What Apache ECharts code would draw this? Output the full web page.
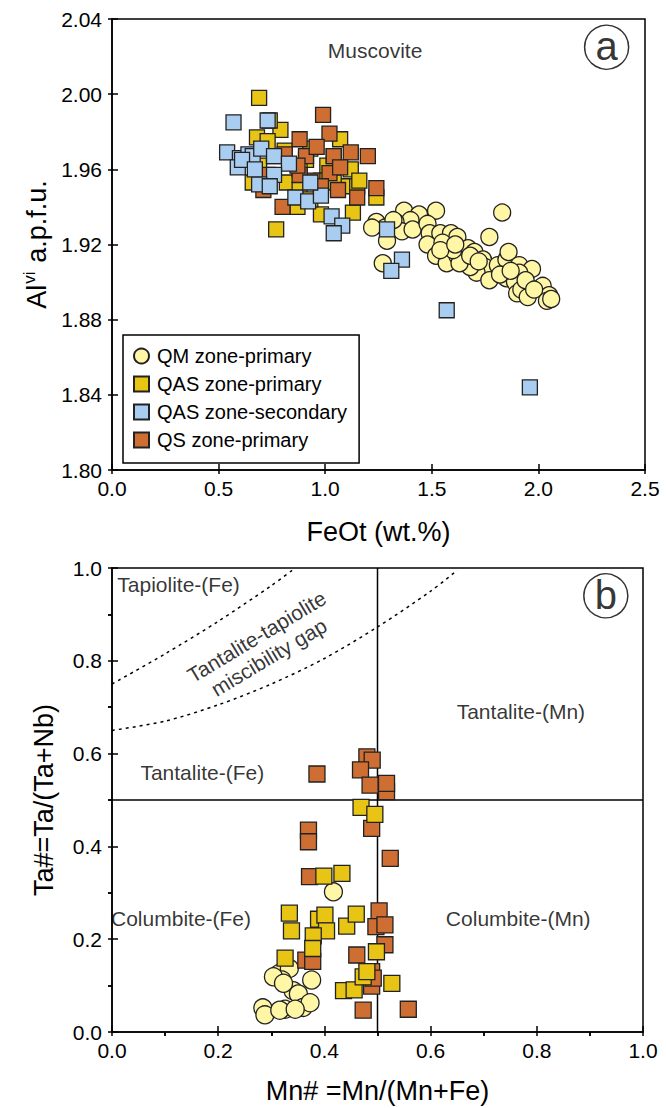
<!DOCTYPE html>
<html>
<head>
<meta charset="utf-8">
<script src="https://cdn.jsdelivr.net/npm/echarts@6/dist/echarts.min.js"></script>
<style>
  html, body { margin: 0; padding: 0; background: #fff; }
  #chart { width: 666px; height: 1108px; }
</style>
</head>
<body>
<div id="chart"></div>
<script>
// ---- Panel (a): muscovite Al(vi) vs FeOt ----
const seriesNames = ['QM zone-primary', 'QAS zone-primary', 'QAS zone-secondary', 'QS zone-primary'];

const qmA = [[1.37,1.938],[1.44,1.936],[1.52,1.938],[1.83,1.937],[1.77,1.924],[1.40,1.933],[1.33,1.932],[1.36,1.927],[1.41,1.928],[1.48,1.931],[1.49,1.926],[1.54,1.926],[1.59,1.926],[1.62,1.924],[1.48,1.920],[1.55,1.921],[1.52,1.914],[1.57,1.910],[1.62,1.914],[1.67,1.918],[1.67,1.912],[1.70,1.916],[1.74,1.912],[1.75,1.908],[1.71,1.905],[1.77,1.901],[1.81,1.909],[1.85,1.912],[1.86,1.916],[1.85,1.902],[1.91,1.909],[1.97,1.907],[1.91,1.905],[1.89,1.900],[1.90,1.894],[1.92,1.896],[1.95,1.892],[2.02,1.898],[2.05,1.893],[2.04,1.890],[2.06,1.891],[1.68,1.908],[1.63,1.910],[1.60,1.917],[1.24,1.932],[1.28,1.929],[1.27,1.910],[1.22,1.929],[1.32,1.933],[1.29,1.922],[1.54,1.917],[1.61,1.920],[1.68,1.914],[1.72,1.911],[1.82,1.904],[1.87,1.906],[1.94,1.901],[1.98,1.896]];

const qasPrimaryA = [[0.69,1.998],[0.79,1.981],[0.68,1.977],[0.73,1.975],[0.66,1.953],[0.69,1.962],[0.82,1.953],[0.88,1.949],[0.93,1.971],[1.01,1.962],[1.12,1.960],[1.09,1.951],[1.15,1.951],[1.24,1.945],[0.98,1.936],[1.13,1.937],[0.77,1.928],[0.87,1.940],[0.91,1.965],[1.04,1.967],[0.76,1.967],[1.04,1.953],[1.16,1.954],[0.93,1.944],[0.74,1.986],[0.81,1.970],[0.88,1.960],[0.98,1.954],[1.07,1.976],[0.62,1.965]];

const qasSecondaryA = [[0.57,1.985],[0.73,1.986],[0.54,1.969],[0.60,1.966],[0.64,1.968],[0.66,1.967],[0.70,1.971],[0.76,1.967],[0.83,1.963],[0.59,1.961],[0.76,1.957],[0.69,1.952],[0.74,1.951],[0.86,1.945],[0.92,1.943],[0.98,1.946],[0.93,1.953],[1.03,1.935],[1.08,1.930],[1.04,1.926],[1.29,1.928],[1.36,1.912],[1.31,1.906],[1.57,1.885],[1.96,1.844],[0.61,1.965],[0.67,1.960]];

const qsA = [[0.99,1.989],[1.02,1.979],[0.88,1.976],[0.81,1.968],[0.91,1.967],[0.96,1.972],[1.04,1.967],[1.12,1.969],[1.20,1.967],[0.94,1.954],[1.02,1.958],[1.07,1.961],[1.24,1.950],[1.15,1.945],[0.80,1.940],[0.71,1.949],[0.88,1.957],[0.98,1.951],[0.87,1.962],[1.06,1.949],[0.73,1.957]];

// ---- Panel (b): Ta# vs Mn# ----
const qmB = [[0.417,0.302],[0.315,0.126],[0.334,0.137],[0.320,0.112],[0.376,0.112],[0.341,0.089],[0.351,0.082],[0.284,0.052],[0.288,0.037],[0.326,0.049],[0.360,0.053],[0.373,0.063],[0.316,0.047],[0.345,0.049],[0.304,0.119],[0.323,0.105]];

const qasPrimaryB = [[0.469,0.484],[0.495,0.469],[0.399,0.336],[0.433,0.342],[0.334,0.256],[0.338,0.218],[0.389,0.243],[0.401,0.252],[0.404,0.218],[0.379,0.207],[0.442,0.228],[0.460,0.254],[0.378,0.180],[0.326,0.159],[0.498,0.173],[0.436,0.089],[0.456,0.091],[0.473,0.119],[0.527,0.105],[0.480,0.130]];

const qsB = [[0.370,0.435],[0.370,0.410],[0.372,0.335],[0.489,0.439],[0.524,0.374],[0.503,0.261],[0.497,0.227],[0.514,0.231],[0.514,0.188],[0.461,0.166],[0.365,0.155],[0.378,0.152],[0.489,0.130],[0.489,0.099],[0.473,0.047],[0.558,0.049],[0.492,0.116],[0.517,0.518],[0.517,0.536],[0.386,0.556],[0.480,0.593],[0.490,0.586],[0.468,0.565],[0.486,0.532]];

// Field boundaries (Mn#, Ta#)
const boundaryV = [[0.5,0],[0.5,1]];
const boundaryH = [[0,0.5],[1,0.5]];
const gapUpper = [[0,0.75],[0.1,0.815],[0.2,0.885],[0.3,0.962],[0.345,1.0]];
const gapLower = [[0,0.65],[0.1,0.67],[0.2,0.705],[0.3,0.75],[0.4,0.805],[0.5,0.873],[0.6,0.95],[0.65,0.995]];

// Field names [Mn#, Ta#, text, rotation]
const fieldLabels = [
  [0.01, 0.965, 'Tapiolite-(Fe)', 0],
  [0.284, 0.830, 'Tantalite-tapiolite\nmiscibility gap', 31],
  [0.77, 0.69, 'Tantalite-(Mn)', 0],
  [0.17, 0.56, 'Tantalite-(Fe)', 0],
  [0.13, 0.245, 'Columbite-(Fe)', 0],
  [0.765, 0.245, 'Columbite-(Mn)', 0]
];

const FONT = 'Liberation Sans, Arial, sans-serif';
const colors = ['#FFF6A6', '#E8C515', '#A9CDF1', '#CE6E32'];
const edge = '#222';
const plainText = { color: '#000', fontFamily: FONT, textBorderWidth: 0, textBorderColor: 'transparent', textShadowBlur: 0 };

const chart = echarts.init(document.getElementById('chart'), null, { renderer: 'svg' });

// Each frame axis is drawn twice: outward ticks with labels, plus inward ticks, so ticks cross the line.
function frameAxes(gridIndex, min, max, interval, digits, isX, extra) {
  const outer = Object.assign({
    gridIndex, type: 'value', min, max, interval,
    axisLine: { show: true, onZero: false, lineStyle: { color: '#000', width: 1.5 } },
    axisTick: { show: true, length: 4, lineStyle: { color: '#000', width: 1.5 } },
    axisLabel: { color: '#000', fontSize: 21, fontFamily: FONT, margin: isX ? 8 : 10,
                 formatter: v => v.toFixed(digits) },
    splitLine: { show: false }
  }, extra || {});
  const inner = {
    gridIndex, type: 'value', min, max, interval,
    position: isX ? 'bottom' : 'left',
    axisLine: { show: false, onZero: false },
    axisTick: { show: true, inside: true, length: 6, lineStyle: { color: '#000', width: 1.5 } },
    axisLabel: { show: false },
    splitLine: { show: false }
  };
  if (extra && extra.minorTick) {
    inner.minorTick = { show: true, splitNumber: 2, length: -4, lineStyle: { color: '#000', width: 1.5 } };
  }
  return [outer, inner];
}

const nameStyle = { color: '#000', fontSize: 27, fontFamily: FONT };
const minorB = { show: true, splitNumber: 2, length: 4, lineStyle: { color: '#000', width: 1.5 } };

const xAxes = [
  ...frameAxes(0, 0, 2.5, 0.5, 1, true, { position: 'bottom', name: 'FeOt (wt.%)', nameLocation: 'middle', nameGap: 48, nameTextStyle: nameStyle }),
  ...frameAxes(1, 0, 1, 0.2, 1, true, { position: 'bottom', name: 'Mn# =Mn/(Mn+Fe)', nameLocation: 'middle', nameGap: 45, nameTextStyle: nameStyle, minorTick: minorB })
];
const yAxes = [
  ...frameAxes(0, 1.80, 2.04, 0.04, 2, false, {
    position: 'left', name: '{n|Al}{s|vi}{n| a.p.f.u.}', nameLocation: 'middle', nameRotate: 90, nameGap: 58,
    nameTextStyle: { color: '#000', fontFamily: FONT, rich: {
      n: { fontSize: 27, fontFamily: FONT, color: '#000' },
      s: { fontSize: 17, fontFamily: FONT, color: '#000', padding: [0, 1, 14, 1] }
    } }
  }),
  ...frameAxes(1, 0, 1, 0.2, 1, false, { position: 'left', name: 'Ta#=Ta/(Ta+Nb)', nameLocation: 'middle', nameRotate: 90, nameGap: 55, nameTextStyle: nameStyle, minorTick: minorB })
];

function pts(name, data, gi, symbol, size, color, z) {
  return {
    name, type: 'scatter', xAxisIndex: gi * 2, yAxisIndex: gi * 2, data,
    symbol, symbolSize: size, z,
    itemStyle: { color, borderColor: edge, borderWidth: 1.3, opacity: 1 },
    emphasis: { disabled: true }, silent: true
  };
}

function refLine(data, dashed) {
  return {
    type: 'line', xAxisIndex: 2, yAxisIndex: 2, data, symbol: 'none', smooth: dashed ? 0.3 : false,
    lineStyle: { color: '#000', width: 1.5, type: dashed ? [3, 4] : 'solid' },
    silent: true, z: 1
  };
}

function badge(gi, pos, letter) {
  return {
    type: 'scatter', xAxisIndex: gi * 2, yAxisIndex: gi * 2, data: [pos],
    symbol: 'circle', symbolSize: 44, z: 5, silent: true,
    itemStyle: { color: 'rgba(255,255,255,0)', borderColor: '#000', borderWidth: 1.5 },
    label: Object.assign({ show: true, position: 'inside', formatter: letter, fontSize: 40, offset: [0, -1] }, plainText)
  };
}

const option = {
  backgroundColor: '#fff',
  animation: false,
  grid: [
    { left: 112, top: 19, width: 533, height: 451, show: true, borderColor: '#000', borderWidth: 1.5, backgroundColor: 'transparent' },
    { left: 112, top: 568, width: 531, height: 464, show: true, borderColor: '#000', borderWidth: 1.5, backgroundColor: 'transparent' }
  ],
  legend: {
    data: [
      { name: seriesNames[0], icon: 'circle' },
      { name: seriesNames[1], icon: 'rect' },
      { name: seriesNames[2], icon: 'rect' },
      { name: seriesNames[3], icon: 'rect' }
    ],
    orient: 'vertical', left: 123, top: 335,
    itemWidth: 15, itemHeight: 15, itemGap: 8,
    padding: [11, 12, 13, 10],
    borderColor: '#000', borderWidth: 1.5,
    textStyle: { color: '#000', fontSize: 20, fontFamily: FONT, padding: [0, 0, 0, 3] },
    selectedMode: false
  },
  xAxis: xAxes,
  yAxis: yAxes,
  series: [
    pts(seriesNames[0], qmA, 0, 'circle', 17, colors[0], 2),
    pts(seriesNames[1], qasPrimaryA, 0, 'rect', 15, colors[1], 3),
    pts(seriesNames[3], qsA, 0, 'rect', 15, colors[3], 4),
    pts(seriesNames[2], qasSecondaryA, 0, 'rect', 15, colors[2], 4),
    {
      type: 'scatter', xAxisIndex: 0, yAxisIndex: 0, data: [[1.234, 2.0235]], symbolSize: 0, silent: true,
      label: Object.assign({ show: true, position: 'inside', formatter: 'Muscovite', fontSize: 21 }, plainText)
    },
    badge(0, [2.32, 2.025], 'a'),

    refLine(boundaryV, false),
    refLine(boundaryH, false),
    refLine(gapUpper, true),
    refLine(gapLower, true),
    pts('QM zone-primary (b)', qmB, 1, 'circle', 18, colors[0], 2),
    pts('QS zone-primary (b)', qsB, 1, 'rect', 16, colors[3], 3),
    pts('QAS zone-primary (b)', qasPrimaryB, 1, 'rect', 16, colors[1], 4),
    {
      type: 'scatter', xAxisIndex: 2, yAxisIndex: 2, symbolSize: 0, silent: true, z: 6,
      data: fieldLabels.map(f => ({
        value: [f[0], f[1]],
        label: Object.assign({
          show: true, formatter: f[2], rotate: f[3],
          position: 'inside', align: f[0] < 0.05 ? 'left' : 'center',
          fontSize: 21, lineHeight: 24
        }, plainText)
      }))
    },
    badge(1, [0.93, 0.94], 'b')
  ]
};

chart.setOption(option);
</script>
</body>
</html>
